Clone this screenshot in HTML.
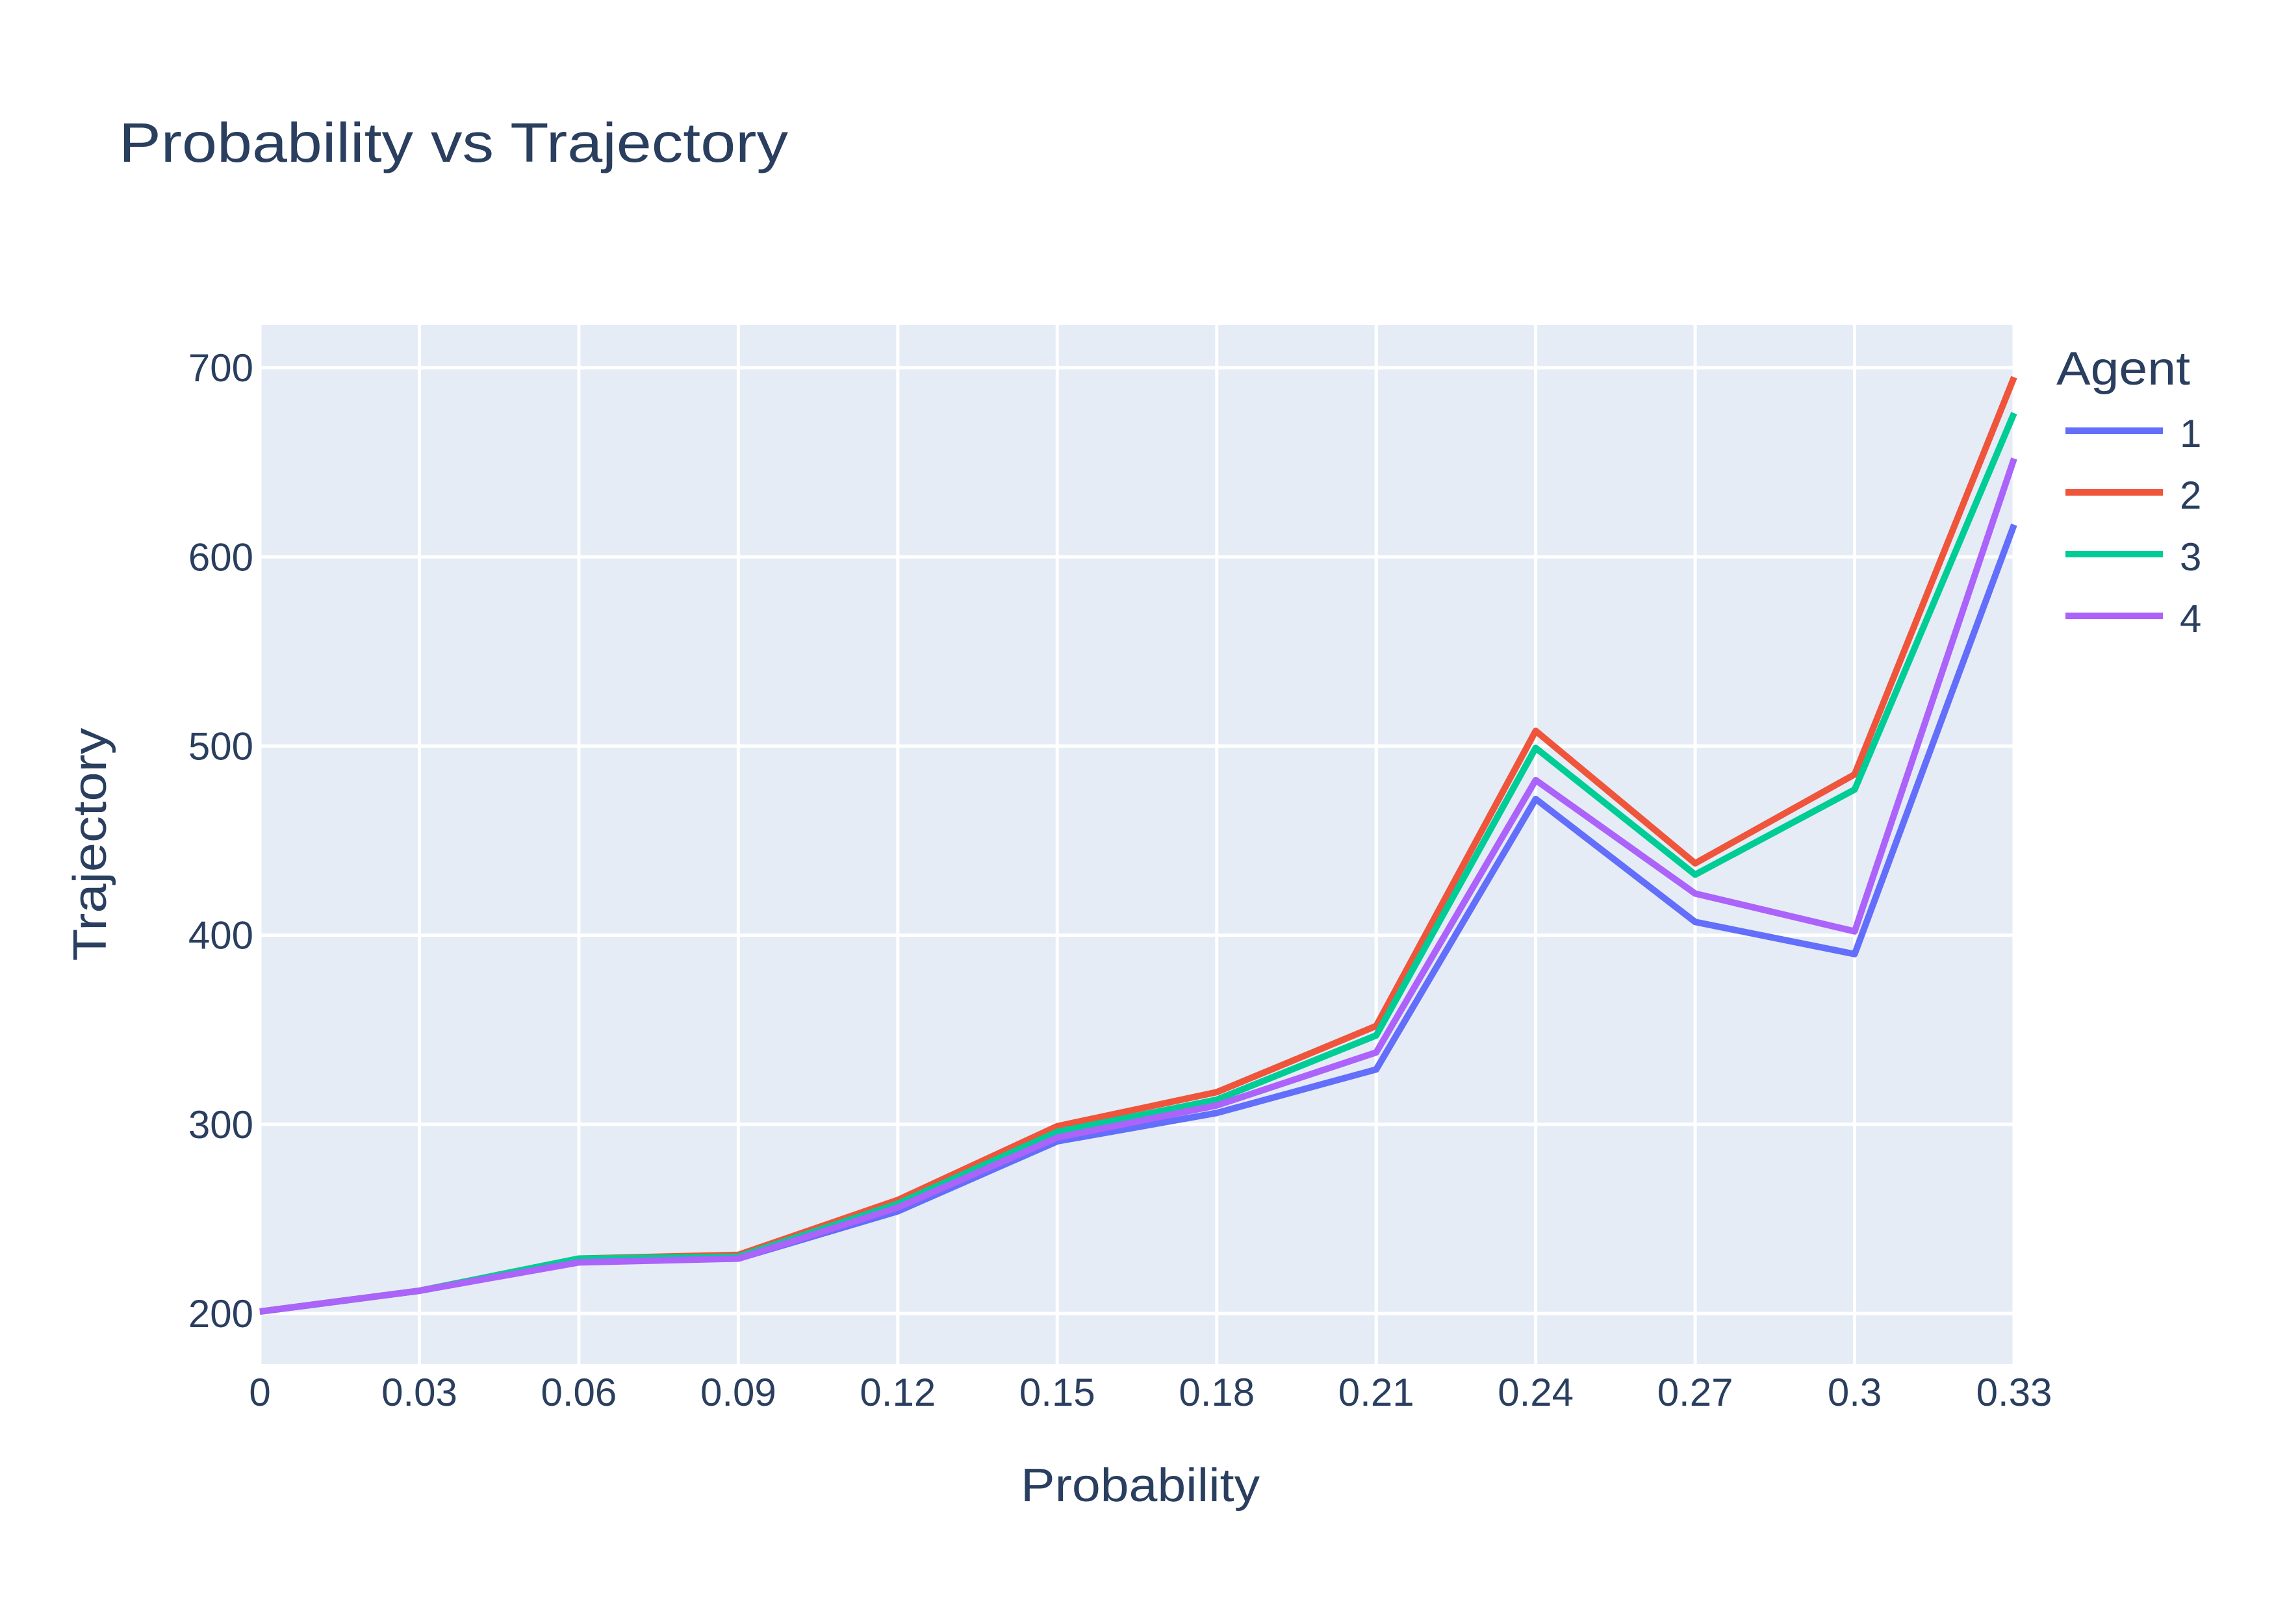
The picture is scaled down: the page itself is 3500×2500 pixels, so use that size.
<!DOCTYPE html>
<html><head><meta charset="utf-8"><style>
html,body{margin:0;padding:0;background:#fff;}
svg{display:block;font-family:"Liberation Sans","DejaVu Sans",sans-serif;}
</style></head><body>
<svg id="chart" width="3500" height="2500" viewBox="0 0 3500 2500" xmlns="http://www.w3.org/2000/svg">
<rect x="0" y="0" width="3500" height="2500" fill="#ffffff"/>
<text x="183" y="249" font-size="85" fill="#2a3f5f" textLength="1030" lengthAdjust="spacingAndGlyphs">Probability vs Trajectory</text>
<rect x="400" y="500" width="2700" height="1600" fill="#e5ecf6"/>
<g id="grid"></g>
<g id="series"></g>
<g id="ticks"></g>
<text x="1755" y="2311" font-size="72" fill="#2a3f5f" text-anchor="middle" textLength="368" lengthAdjust="spacingAndGlyphs">Probability</text>
<text x="0" y="0" font-size="72" fill="#2a3f5f" text-anchor="middle" textLength="359" lengthAdjust="spacingAndGlyphs" transform="translate(163,1300) rotate(-90)">Trajectory</text>
<g id="legend">
<text x="3165" y="592" font-size="72" fill="#2a3f5f" textLength="206" lengthAdjust="spacingAndGlyphs">Agent</text>
</g>
</svg>
<script>
const categories = [0, 0.03, 0.06, 0.09, 0.12, 0.15, 0.18, 0.21, 0.24, 0.27, 0.3, 0.33];
const agent1 = [201, 212, 228, 229, 254, 291, 306, 329, 472, 407, 390, 617];
const agent2 = [201, 212, 229, 231, 260, 299, 317, 352, 508, 438, 485, 695];
const agent3 = [201, 212, 229, 230, 258, 296, 313, 347, 499, 432, 477, 676];
const agent4 = [201, 212, 227, 229, 256, 293, 310, 338, 482, 422, 402, 652];
const seriesNames = ["1", "2", "3", "4"];
const xTickLabels = ["0", "0.03", "0.06", "0.09", "0.12", "0.15", "0.18", "0.21", "0.24", "0.27", "0.3", "0.33"];
const yTickValues = [200, 300, 400, 500, 600, 700];

const NS = "http://www.w3.org/2000/svg";
const PL = 400, PR = 3100, PT = 500, PB = 2100;
const XMIN = 0, XMAX = 0.33, YMIN = 173.2, YMAX = 722.7;
const colors = ["#636efa", "#ef553b", "#00cc96", "#ab63fa"];
function xs(v){ return PL + (v - XMIN) / (XMAX - XMIN) * (PR - PL); }
function ys(v){ return PB - (v - YMIN) / (YMAX - YMIN) * (PB - PT); }
function mk(tag, attrs){ const e = document.createElementNS(NS, tag); for (const k in attrs) e.setAttribute(k, attrs[k]); return e; }

const grid = document.getElementById("grid");
const ticks = document.getElementById("ticks");
categories.forEach((c, i) => {
  const gl = mk("line", {x1: xs(c), x2: xs(c), y1: PT, y2: PB, stroke: "#ffffff", "stroke-width": 5});
  
  
  grid.appendChild(gl);
  const t = mk("text", {x: xs(c), y: 2164, "font-size": 60, fill: "#2a3f5f", "text-anchor": "middle"});
  t.textContent = xTickLabels[i];
  
  
  ticks.appendChild(t);
});
yTickValues.forEach(v => {
  const gl = mk("line", {x1: PL, x2: PR, y1: ys(v), y2: ys(v), stroke: "#ffffff", "stroke-width": 5});
  
  
  grid.appendChild(gl);
  const t = mk("text", {x: 390, y: ys(v) + 21, "font-size": 60, fill: "#2a3f5f", "text-anchor": "end"});
  t.textContent = String(v);
  
  
  ticks.appendChild(t);
});

const allSeries = [agent1, agent2, agent3, agent4];
const sg = document.getElementById("series");
allSeries.forEach((vals, si) => {
  const pts = vals.map((v, i) => xs(categories[i]) + "," + ys(v)).join(" ");
  const pl = mk("polyline", {points: pts, fill: "none", stroke: colors[si], "stroke-width": 10, "stroke-linejoin": "round"});
  
  
  sg.appendChild(pl);
});

const lg = document.getElementById("legend");
seriesNames.forEach((n, i) => {
  const y = 663 + i * 95;
  const g = mk("g", {});
  
  
  const l = mk("line", {x1: 3179, x2: 3329, y1: y, y2: y, stroke: colors[i], "stroke-width": 10});
  
  
  const t = mk("text", {x: 3355, y: y + 25, "font-size": 60, fill: "#2a3f5f"});
  t.textContent = n;
  
  
  g.appendChild(l); g.appendChild(t);
  lg.appendChild(g);
});
</script>
</body></html>
